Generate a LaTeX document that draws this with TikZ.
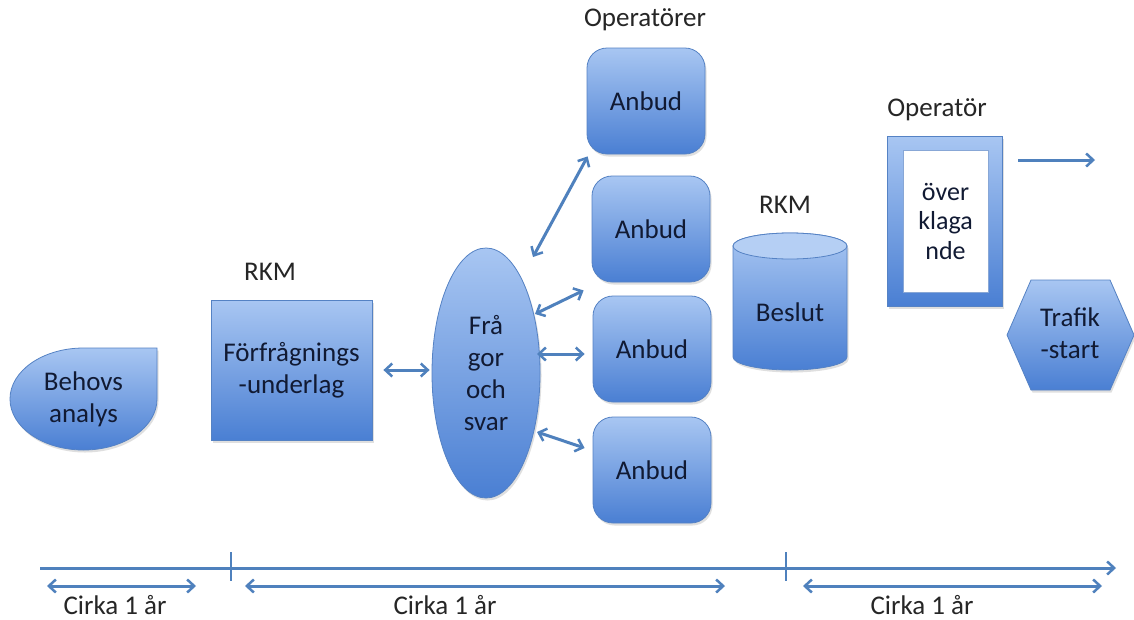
\documentclass[tikz,border=0pt]{standalone}
\usepackage{fontspec}
\setmainfont{Carlito}
\usetikzlibrary{arrows.meta,shapes.geometric,shadows,calc}
\definecolor{bluetop}{HTML}{A8C6F2}
\definecolor{bluebot}{HTML}{4A7FD3}
\definecolor{blueedge}{HTML}{5582C4}
\definecolor{arrowc}{HTML}{4F81BD}
\definecolor{txt}{HTML}{111A33}
\begin{document}
\begin{tikzpicture}[x=1pt,y=1pt,
  shp/.style={draw=blueedge, line width=0.8pt, top color=bluetop, bottom color=bluebot,
    drop shadow={opacity=0.25, shadow xshift=1.5pt, shadow yshift=-2.5pt}},
  lbl/.style={font=\fontsize{27}{32}\selectfont, text=txt, align=center},
  captxt/.style={font=\fontsize{27}{32}\selectfont, text=black!85},
  anbud/.style={shp, rectangle, rounded corners=20pt, minimum width=118pt, minimum height=106pt, lbl},
  mytip/.tip={Straight Barb[length=7pt,width=13pt,line width=2.5pt]},
  conn/.style={draw=arrowc, line width=3pt, {mytip}-{mytip}},
  oneway/.style={draw=arrowc, line width=3pt, -{mytip}},
  tickln/.style={draw=arrowc, line width=1.5pt},
]
\useasboundingbox (0,0) rectangle (1134,-619);
\fill[white] (0,0) rectangle (1134,-619);

% Behovs analys (teardrop)
\path[shp] (83.5,-348) -- (157,-348) -- (157,-399)
  arc[start angle=0, end angle=-180, x radius=73.5, y radius=51]
  arc[start angle=180, end angle=90, x radius=73.5, y radius=51] -- cycle;
\node[lbl] (beh) at (83.5,-399) {Behovs\\analys};

% Forfragningsunderlag
\node[captxt] (rkm1) at (270,-272) {RKM};
\node[shp, rectangle, minimum width=161pt, minimum height=140pt, lbl] (ffu) at (291.5,-370) {Förfrågnings\\-underlag};

% Fragor och svar
\node[shp, ellipse, minimum width=108pt, minimum height=250pt, inner sep=0pt, lbl] (fos) at (486,-373) {Frå\\gor\\och\\svar};

% Anbud
\node[captxt] (oper) at (645,-20) {Operatörer};
\node[anbud] (b1) at (646,-101) {Anbud};
\node[anbud] (b2) at (651,-229) {Anbud};
\node[anbud] (b3) at (652,-349) {Anbud};
\node[anbud] (b4) at (652,-470) {Anbud};

% connectors
\draw[conn] ($(ffu.east)+(11,0)$) -- ($(fos.west)+(-2,3)$);
\draw[conn] ($(fos.center)+(47,116)$) -- ($(b1.south west)+(1,-2)$);
\draw[conn] ($(fos.center)+(49,59)$) -- ($(b2.south west)+(-8,-8)$);
\draw[conn] ($(fos.center)+(51,19)$) -- ($(b3.west)+(-8,-5)$);
\draw[conn] ($(fos.center)+(51,-59)$) -- ($(b4.west)+(-8,22)$);

% Beslut cylinder
\node[captxt] (rkm2) at (785,-205) {RKM};
\path[shp] (733,-246) -- (733,-357)
  arc[start angle=180, end angle=360, x radius=57, y radius=13] -- (847,-246)
  arc[start angle=0, end angle=180, x radius=57, y radius=13] -- cycle;
\path[draw=blueedge, line width=0.8pt, fill=bluetop!85!white] (790,-246) ellipse [x radius=57, y radius=13];
\node[lbl] (besl) at (790,-312) {Beslut};

% Overklagande frame
\node[captxt] (op2) at (937,-110) {Operatör};
\node[shp, rectangle, minimum width=115pt, minimum height=170pt] (frame) at (944.5,-221) {};
\node[rectangle, fill=white, draw=blueedge!70, line width=0.5pt, minimum width=85pt, minimum height=142pt,
  lbl, font=\fontsize{26}{29.5}\selectfont] (ovk) at (945.5,-221) {över\\klaga\\nde};
\coordinate (arrS) at (1018,-160);
\coordinate (arrE) at (1095,-160);
\draw[oneway] (arrS) -- (arrE);

% Trafikstart hexagon
\path[shp] (1007,-335) -- (1031,-280) -- (1110,-280) -- (1134,-335) -- (1110,-390) -- (1031,-390) -- cycle;
\node[lbl] (trs) at (1070,-333) {Trafik\\-start};

% timeline
\coordinate (t0) at (40,-568);
\coordinate (t1) at (1116,-568);
\draw[oneway] (t0) -- (t1);
\coordinate (k1a) at (231,-552); \coordinate (k1b) at (231,-581);
\coordinate (k2a) at (786,-552); \coordinate (k2b) at (786,-581);
\draw[tickln] (k1a) -- (k1b);
\draw[tickln] (k2a) -- (k2b);
\coordinate (a1) at (47,-586); \coordinate (a2) at (196,-586);
\coordinate (a3) at (245,-586); \coordinate (a4) at (725,-586);
\coordinate (a5) at (803,-586); \coordinate (a6) at (1102,-586);
\draw[conn] (a1) -- (a2);
\draw[conn] (a3) -- (a4);
\draw[conn] (a5) -- (a6);
\node[captxt, inner sep=0.5pt] (c1) at (115,-605) {Cirka 1 år};
\node[captxt, inner sep=0.5pt] (c2) at (445,-605) {Cirka 1 år};
\node[captxt, inner sep=0.5pt] (c3) at (922,-605) {Cirka 1 år};
\end{tikzpicture}
\end{document}
